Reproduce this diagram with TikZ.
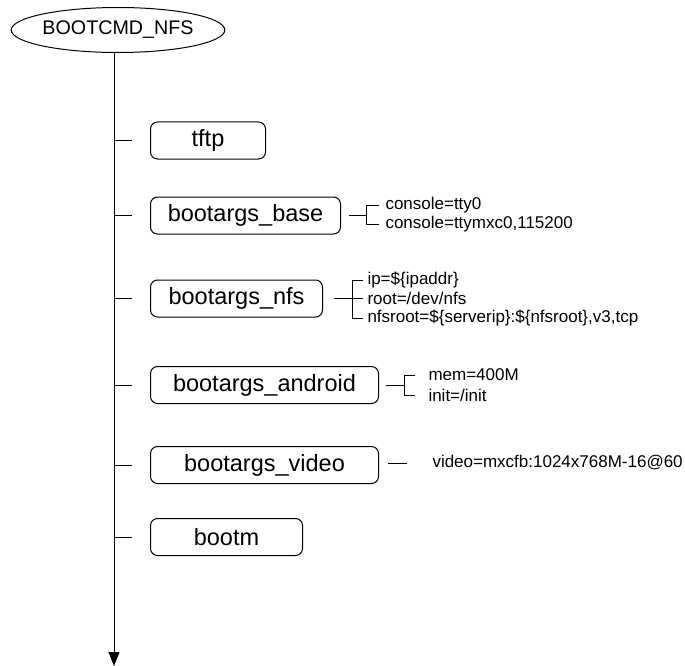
\documentclass[tikz,border=0pt]{standalone}
\usepackage{fontspec}
\setmainfont{Liberation Sans}
\usetikzlibrary{arrows.meta,shapes.geometric}
\begin{document}
\begin{tikzpicture}[x=1pt,y=-1pt,line width=1pt,
  cmdbox/.style={draw, rounded corners=7pt, minimum height=37pt, inner sep=0pt,
    anchor=west, font=\fontsize{23.5}{28}\selectfont},
  argtext/.style={anchor=west, inner sep=0pt, font=\fontsize{17}{19.5}\selectfont},
  ]
\useasboundingbox (0,0) rectangle (685,666);

% root command
\node[draw, ellipse, minimum width=210pt, minimum height=45pt, inner sep=0pt,
  font=\fontsize{19.7}{24}\selectfont] (root) at (118,30) {BOOTCMD\_NFS};

% sequence spine
\coordinate (top) at (114,52);
\coordinate (bottom) at (114,666);
\draw[-{Triangle[length=14pt,width=11pt]}] (top) -- (bottom);

% commands run in order
\node[cmdbox, minimum width=115pt] (tftp)    at (150,140.5) {tftp};
\node[cmdbox, minimum width=190pt] (base)    at (150,215.5) {bootargs\_base};
\node[cmdbox, minimum width=172pt] (nfs)     at (150,298.5) {bootargs\_nfs};
\node[cmdbox, minimum width=228pt] (android) at (150,385)   {bootargs\_android};
\node[cmdbox, minimum width=228pt] (video)   at (150,465)   {bootargs\_video};
\node[cmdbox, minimum width=152pt] (bootm)   at (150,537)   {bootm};

\foreach \n in {tftp,base,nfs,android,video,bootm}
  \draw ([xshift=-18pt]\n.west) -- (\n.west -| top);

% bootargs_base
\node[argtext] (b1) at (385,205) {console=tty0};
\node[argtext] (b2) at (385,224) {console=ttymxc0,115200};
\coordinate (baseB) at (366,215.5);
\draw ([xshift=8pt]base.east) -- (baseB);
\draw ([xshift=-6pt]b1.west) -| (baseB);
\draw ([xshift=-6pt]b2.west) -| (baseB);

% bootargs_nfs
\node[argtext] (n1) at (367,280)   {ip=\$\{ipaddr\}};
\node[argtext] (n2) at (367,298.5) {root=/dev/nfs};
\node[argtext] (n3) at (367,318)   {nfsroot=\$\{serverip\}:\$\{nfsroot\},v3,tcp};
\coordinate (nfsB) at (352,298.5);
\draw ([xshift=11pt]nfs.east) -- ([xshift=-4pt]n2.west);
\draw ([xshift=-4pt]n1.west) -| (nfsB);
\draw ([xshift=-4pt]n3.west) -| (nfsB);

% bootargs_android
\node[argtext] (a1) at (428,375) {mem=400M};
\node[argtext] (a2) at (428,395) {init=/init};
\coordinate (andB) at (404,385);
\draw ([xshift=7pt]android.east) -- (andB);
\draw ([xshift=-13pt]a1.west) -| (andB);
\draw ([xshift=-13pt]a2.west) -| (andB);

% bootargs_video
\node[argtext] (v1) at (432,463) {video=mxcfb:1024x768M-16@60};
\draw ([xshift=9pt,yshift=2pt]video.east) -- ([xshift=-25pt]v1.west);
\end{tikzpicture}
\end{document}
